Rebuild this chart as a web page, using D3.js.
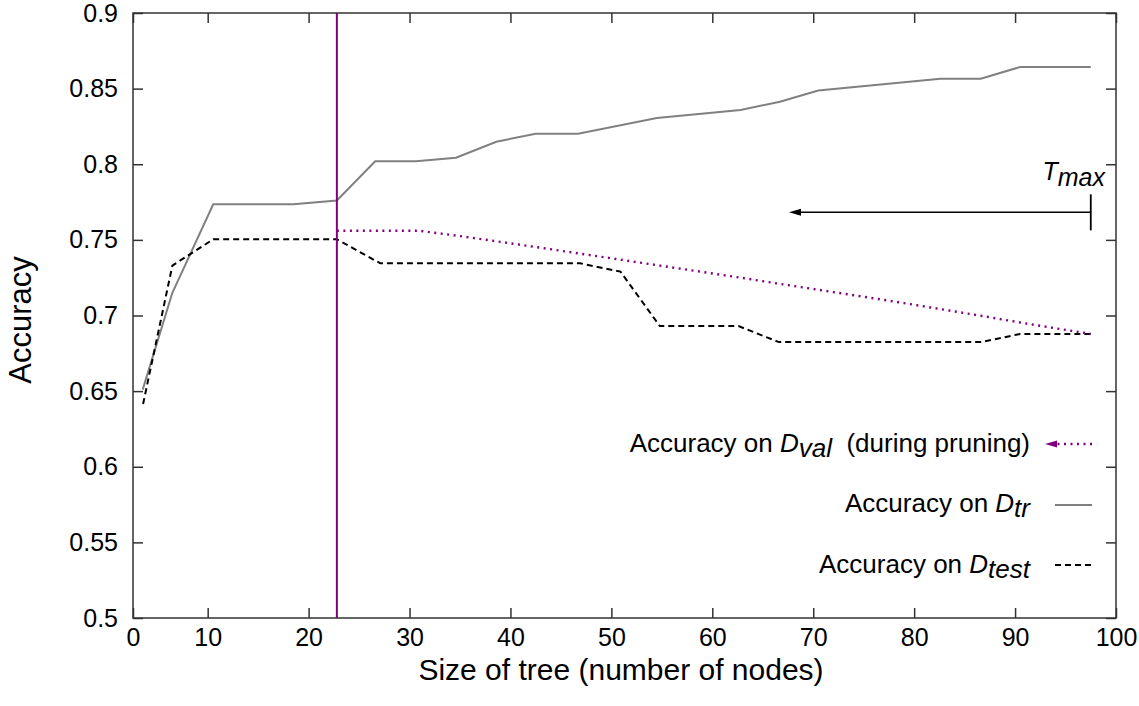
<!DOCTYPE html>
<html>
<head>
  <meta charset="UTF-8">
  <title>Accuracy vs size of tree</title>
  <style>
    body { margin: 0; background: white; font-family: 'Liberation Sans', Arial, sans-serif; }
    svg { display: block; }
    text { fill: black; }
    .legend text, .note text { white-space: pre; }
  </style>
</head>
<body>
  <svg width="1139" height="706"></svg>
  <script src="https://d3js.org/d3.v7.min.js"></script>
  <script>
    // values
    const trainX = [3.56, 6.5, 10.55, 18.5, 22.8, 26.6, 30.65, 34.6, 38.6, 42.5, 46.7, 54.5, 62.8, 66.7, 70.5, 82.6, 86.6, 90.5, 97.5];
    const trainAcc = [0.651, 0.715, 0.7735, 0.7735, 0.776, 0.802, 0.802, 0.8043, 0.8149, 0.8202, 0.8202, 0.8306, 0.8359, 0.8413, 0.8487, 0.8565, 0.8565, 0.8643, 0.8643];

    const testX = [3.6, 6.5, 10.55, 22.8, 27.1, 46.9, 50.9, 54.8, 62.6, 66.6, 86.6, 90.5, 97.5];
    const testAcc = [0.6415, 0.733, 0.7504, 0.7504, 0.7345, 0.7345, 0.729, 0.693, 0.693, 0.6824, 0.6824, 0.6878, 0.6878];

    const valX = [22.8, 31, 35, 39, 43, 47, 51, 55, 59, 63, 67, 71, 75, 79, 83, 87, 91, 97.5];
    const valAcc = [0.756, 0.756, 0.7525, 0.7487, 0.7448, 0.7408, 0.7368, 0.7328, 0.7288, 0.7248, 0.7206, 0.7165, 0.7124, 0.7082, 0.7038, 0.6994, 0.6948, 0.6878];

    const prunedSize = 22.8;   // purple vertical line
    const tMax = 97.5;         // start of the pruning arrow
    const arrowEnd = 67.7;
    const arrowAcc = 0.7682;

    const xMin = 2.6, xMax = 100;
    const xTicks = [xMin, 10, 20, 30, 40, 50, 60, 70, 80, 90, 100];
    const xTickLabels = ["0", "10", "20", "30", "40", "50", "60", "70", "80", "90", "100"];
    const yTicks = [0.5, 0.55, 0.6, 0.65, 0.7, 0.75, 0.8, 0.85, 0.9];
    const yTickLabels = ["0.5", "0.55", "0.6", "0.65", "0.7", "0.75", "0.8", "0.85", "0.9"];

    const pLeft = 133, pRight = 1116, pTop = 13, pBottom = 618;
    const purple = "#800080", grey = "#808080";

    let svg = d3.select("svg");

    let x = d3.scaleLinear().domain([xMin, xMax]).range([pLeft, pRight]);
    let y = d3.scaleLinear().domain([0.5, 0.9]).range([pBottom, pTop]);

    let defs = svg.append("defs");
    // arrow heads, one per colour
    function head(id, colour) {
      defs.append("marker")
        .attr("id", id)
        .attr("viewBox", "0 0 12 8")
        .attr("refX", 0).attr("refY", 4)
        .attr("markerWidth", 12).attr("markerHeight", 8)
        .attr("markerUnits", "userSpaceOnUse")
        .attr("orient", "auto")
        .append("path").attr("d", "M12,4 L0,0.5 L0,7.5 Z").attr("fill", colour);
    }
    head("headBlack", "black");
    head("headPurple", purple);

    // axes, ticks pointing inward on all four sides
    let tickFont = "25px";
    svg.append("g").attr("transform", "translate(0," + pBottom + ")")
      .call(d3.axisBottom(x).tickValues(xTicks).tickSize(-10).tickPadding(10)
        .tickFormat((d, i) => xTickLabels[i]));
    svg.append("g").attr("transform", "translate(0," + pTop + ")")
      .call(d3.axisTop(x).tickValues(xTicks).tickSize(-10).tickFormat(""));
    svg.append("g").attr("transform", "translate(" + pLeft + ",0)")
      .call(d3.axisLeft(y).tickValues(yTicks).tickSize(-10).tickPadding(15)
        .tickFormat((d, i) => yTickLabels[i]));
    svg.append("g").attr("transform", "translate(" + pRight + ",0)")
      .call(d3.axisRight(y).tickValues(yTicks).tickSize(-10).tickFormat(""));

    svg.selectAll(".domain").remove();
    svg.selectAll(".tick line").attr("stroke", "#333").attr("stroke-width", 1.5);
    svg.selectAll(".tick text")
      .style("font-family", "'Liberation Sans', Arial, sans-serif")
      .style("font-size", tickFont).attr("fill", "black");

    // frame
    svg.append("rect")
      .attr("x", pLeft).attr("y", pTop)
      .attr("width", pRight - pLeft).attr("height", pBottom - pTop)
      .attr("fill", "none").attr("stroke", "#333").attr("stroke-width", 1.5);

    // axis titles
    svg.append("text")
      .attr("x", 621).attr("y", 680)
      .attr("text-anchor", "middle").style("font-size", "30px")
      .text("Size of tree (number of nodes)");
    svg.append("text")
      .attr("transform", "translate(31,320) rotate(-90)")
      .attr("text-anchor", "middle").style("font-size", "31px")
      .text("Accuracy");

    let line = d3.line().x(d => x(d[0])).y(d => y(d[1]));

    // curves
    svg.append("path")
      .datum(trainX.map((v, i) => [v, trainAcc[i]]))
      .attr("d", line).attr("fill", "none")
      .attr("stroke", grey).attr("stroke-width", 2);

    svg.append("path")
      .datum(testX.map((v, i) => [v, testAcc[i]]))
      .attr("d", line).attr("fill", "none")
      .attr("stroke", "black").attr("stroke-width", 2)
      .attr("stroke-dasharray", "6,4");

    svg.append("path")
      .datum(valX.map((v, i) => [v, valAcc[i]]))
      .attr("d", line).attr("fill", "none")
      .attr("stroke", purple).attr("stroke-width", 2.4)
      .attr("stroke-dasharray", "2,4.5");

    svg.append("line")
      .attr("x1", x(prunedSize)).attr("x2", x(prunedSize))
      .attr("y1", y(0.5)).attr("y2", y(0.9))
      .attr("stroke", purple).attr("stroke-width", 2);

    // T_max arrow
    let note = svg.append("g").attr("class", "note");
    note.append("line")
      .attr("x1", x(tMax)).attr("x2", x(arrowEnd) + 11)
      .attr("y1", y(arrowAcc)).attr("y2", y(arrowAcc))
      .attr("stroke", "black").attr("stroke-width", 1.5)
      .attr("marker-end", "url(#headBlack)");
    note.append("line")
      .attr("x1", x(tMax)).attr("x2", x(tMax))
      .attr("y1", y(arrowAcc) - 18).attr("y2", y(arrowAcc) + 18)
      .attr("stroke", "black").attr("stroke-width", 1.8);
    let tm = note.append("text")
      .attr("x", 1105).attr("y", 180)
      .attr("text-anchor", "end").style("font-size", "25px").style("font-style", "italic");
    tm.append("tspan").text("T");
    tm.append("tspan").attr("dy", 6).text("max");

    // legend
    let legend = svg.append("g").attr("class", "legend");
    let rows = [
      { base: 452, sub: "val", tail: "  (during pruning)" },
      { base: 512, sub: "tr", tail: "" },
      { base: 573, sub: "test", tail: "" }
    ];
    rows.forEach(r => {
      let t = legend.append("text")
        .attr("x", 1030).attr("y", r.base)
        .attr("text-anchor", "end").style("font-size", "26px");
      t.append("tspan").text("Accuracy on ");
      t.append("tspan").style("font-style", "italic").text("D");
      t.append("tspan").attr("dy", 5).style("font-style", "italic").text(r.sub);
      if (r.tail) t.append("tspan").attr("dy", -5).text(r.tail);
    });

    legend.append("line")
      .attr("x1", 1092).attr("x2", 1057)
      .attr("y1", 444).attr("y2", 444)
      .attr("stroke", purple).attr("stroke-width", 2.4)
      .attr("stroke-dasharray", "2,4.5")
      .attr("marker-end", "url(#headPurple)");
    legend.append("line")
      .attr("x1", 1055).attr("x2", 1092)
      .attr("y1", 505).attr("y2", 505)
      .attr("stroke", grey).attr("stroke-width", 2);
    legend.append("line")
      .attr("x1", 1055).attr("x2", 1092)
      .attr("y1", 565).attr("y2", 565)
      .attr("stroke", "black").attr("stroke-width", 2)
      .attr("stroke-dasharray", "6,4");
  </script>
</body>
</html>
